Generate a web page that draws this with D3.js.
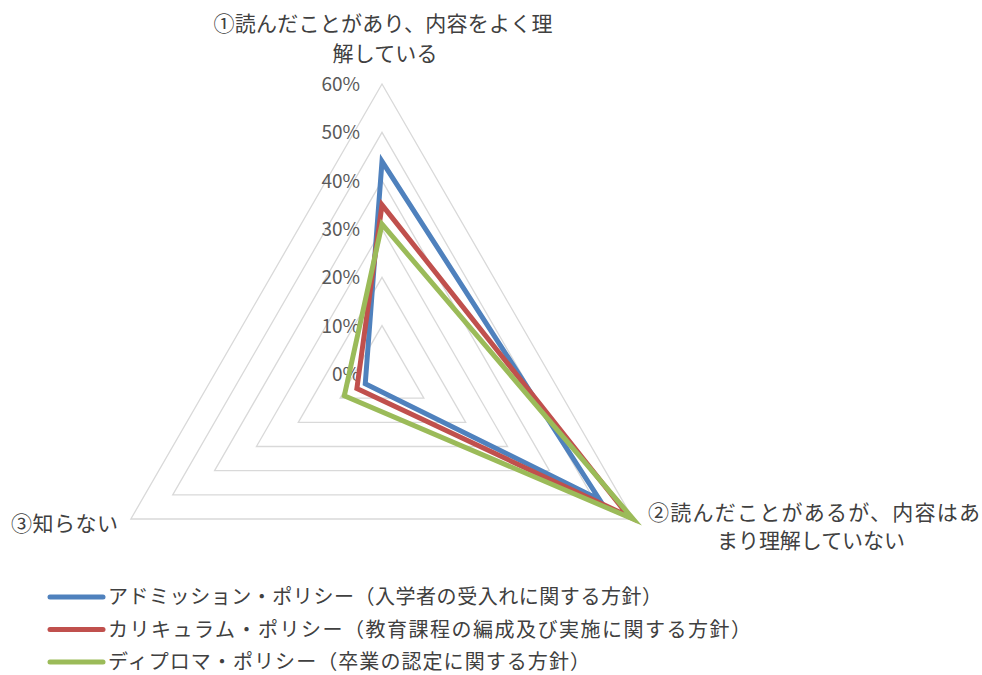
<!DOCTYPE html>
<html><head><meta charset="utf-8">
<script src="https://cdn.jsdelivr.net/npm/d3@7"></script>
<style>body{margin:0;background:#fff;}svg{display:block;font-family:"Noto Sans CJK JP","Noto Sans",sans-serif;}</style>
</head><body><svg id="c" width="982" height="675"></svg>
<script>
const categories = [["①読んだことがあり、内容をよく理","解している"],["②読んだことがあるが、内容はあ","まり理解していない"],["③知らない"]];
const seriesNames = ["アドミッション・ポリシー（入学者の受入れに関する方針）","カリキュラム・ポリシー（教育課程の編成及び実施に関する方針）","ディプロマ・ポリシー（卒業の認定に関する方針）"];
const admission = [0.44, 0.52, 0.04];
const curriculum = [0.35, 0.59, 0.06];
const diploma = [0.31, 0.60, 0.09];
const tickValues = [0, 0.1, 0.2, 0.3, 0.4, 0.5, 0.6];
const colors = ["#4f81bd", "#c0504d", "#9bbb59"];
const series = [admission, curriculum, diploma];

const svg = d3.select("#c");
const cx = 382, cy = 374;
const r = d3.scaleLinear().domain([0, 0.6]).range([0, 290]);
const ang = i => -Math.PI/2 + i * 2*Math.PI/3;
const pt = (i, v) => [cx + r(v)*Math.cos(ang(i)), cy + r(v)*Math.sin(ang(i))];
const line = d3.line().curve(d3.curveLinearClosed);

// grid
svg.append("g").selectAll("path").data(tickValues.slice(1)).join("path")
  .attr("d", v => line([0,1,2].map(i => pt(i, v))))
  .attr("fill", "none").attr("stroke", "#d9d9d9").attr("stroke-width", 1.3);

// tick labels
svg.append("g").selectAll("text").data(tickValues).join("text")
  .attr("x", 360).attr("y", v => cy - r(v)).attr("dy", "0.36em")
  .attr("text-anchor", "end").attr("font-size", 19).attr("fill", "#595959")
  .text(d3.format(".0%"));

// series
svg.append("g").selectAll("path").data(series).join("path")
  .attr("d", s => line(s.map((v, i) => pt(i, v))))
  .attr("fill", "none").attr("stroke", (d, i) => colors[i]).attr("stroke-width", 5)
  .attr("stroke-linejoin", "miter").attr("stroke-miterlimit", 10);

// category labels
const lab = svg.append("g").attr("fill", "#404040").attr("font-size", 21);
function addLabel(txt, x, y, w, anchor) {
  lab.append("text").attr("x", x).attr("y", y).attr("dy", "0.36em")
    .attr("text-anchor", anchor).attr("textLength", w).attr("lengthAdjust", "spacing").text(txt);
}
addLabel(categories[0][0], 383, 23, 339, "middle");
addLabel(categories[0][1], 385, 53, 105, "middle");
addLabel(categories[1][0], 814, 512, 332, "middle");
addLabel(categories[1][1], 811, 540, 188, "middle");
addLabel(categories[2][0], 11, 523, 107, "start");

// legend
const legendWidths = [554, 643, 482];
const lg = svg.append("g").selectAll("g").data(seriesNames).join("g")
  .attr("transform", (d, i) => `translate(0,${597 + i*32.5})`);
lg.append("line").attr("x1", 50).attr("x2", 103).attr("y1", 0).attr("y2", 0)
  .attr("stroke", (d, i) => colors[i]).attr("stroke-width", 5).attr("stroke-linecap", "round");
lg.append("text").attr("x", 108).attr("y", 0).attr("dy", "0.35em")
  .attr("font-size", 20).attr("fill", "#404040")
  .attr("textLength", (d, i) => legendWidths[i]).attr("lengthAdjust", "spacing").text(d => d);
</script></body></html>
